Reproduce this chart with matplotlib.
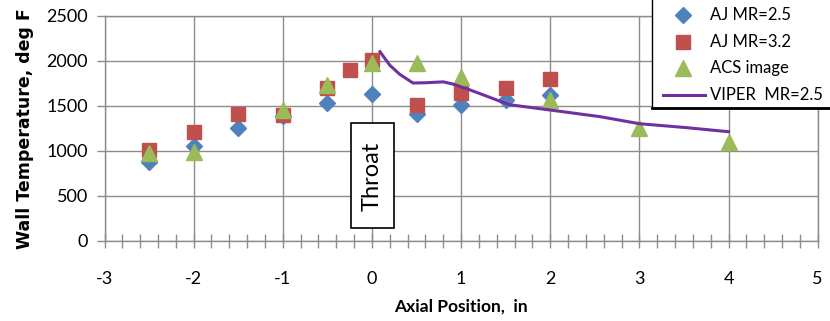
import matplotlib
matplotlib.use("Agg")
import matplotlib.pyplot as plt
from matplotlib.patches import Rectangle
from matplotlib.lines import Line2D
from matplotlib.ticker import MultipleLocator

plt.rcParams['axes.unicode_minus'] = False

# ---- data ----
aj25_x = [-2.5, -2, -1.5, -1, -0.5, 0, 0.5, 1, 1.5, 2]
aj25_y = [880, 1050, 1250, 1380, 1530, 1635, 1405, 1510, 1560, 1615]

aj32_x = [-2.5, -2, -1.5, -1, -0.5, -0.25, 0, 0.5, 1, 1.5, 2]
aj32_y = [1010, 1205, 1405, 1400, 1700, 1900, 2005, 1505, 1645, 1700, 1800]

acs_x = [-2.5, -2, -1, -0.5, 0, 0.5, 1, 2, 3, 4]
acs_y = [970, 990, 1455, 1725, 1970, 1970, 1820, 1560, 1250, 1100]

viper_x = [0.09, 0.2, 0.31, 0.46, 0.6, 0.8, 0.91, 1.1, 1.25, 1.44, 1.55, 2.0, 2.56, 3.0, 3.53, 4.0]
viper_y = [2100, 1950, 1850, 1752, 1755, 1765, 1740, 1675, 1620, 1548, 1510, 1452, 1378, 1300, 1256, 1211]

labels = ["AJ MR=2.5", "AJ MR=3.2", "ACS image", "VIPER  MR=2.5"]

blue = "#4F81BD"
red = "#C0504D"
green = "#9BBB59"
purple = "#7030A0"
grid = "#8C8C8C"

W, H = 830, 321
fig = plt.figure(figsize=(W / 100, H / 100), dpi=100)
ax = fig.add_axes([104.5 / W, 1 - 240.7 / H, (817.7 - 104.5) / W, (240.7 - 15.7) / H])

ax.plot(aj25_x, aj25_y, linestyle='none', marker='D', ms=8, color=blue, mec=blue, zorder=3)
ax.plot(aj32_x, aj32_y, linestyle='none', marker='s', ms=10, color=red, mec=red, zorder=4)
ax.plot(acs_x, acs_y, linestyle='none', marker='^', ms=11, color=green, mec=green, zorder=5)
ax.plot(viper_x, viper_y, color=purple, lw=2.2, zorder=6)

ax.set_xlim(-3, 5)
ax.set_ylim(0, 2500)
ax.xaxis.set_major_locator(MultipleLocator(1))
ax.xaxis.set_minor_locator(MultipleLocator(0.2))
ax.yaxis.set_major_locator(MultipleLocator(500))
ax.grid(True, which='major', color=grid, lw=1.0)
ax.set_axisbelow(True)
for s in ax.spines.values():
    s.set_color(grid)
    s.set_linewidth(1.0)

tickfont = 'Lato'
ax.tick_params(axis='x', which='both', direction='inout', length=10, color=grid, width=1.0,
               pad=17, labelsize=13)
ax.tick_params(axis='y', which='major', direction='out', length=6, color=grid, width=1.0,
               pad=6, labelsize=13)
for lab in ax.get_xticklabels() + ax.get_yticklabels():
    lab.set_fontfamily(tickfont)

ax.set_xlabel("Axial Position,  in", fontsize=12.5, fontweight='bold', family=tickfont, labelpad=8)
ax.set_ylabel("Wall Temperature, deg F", fontsize=12.5, fontweight='bold', family='DejaVu Sans', labelpad=9)

# Throat text box
ax.add_patch(Rectangle((-0.24, 138), 0.487, 1166, fc='white', ec='black', lw=1.2, zorder=7))
ax.text(0, 719, "Throat", rotation=90, ha='center', va='center', fontsize=17, family=tickfont, zorder=8)

# legend (manual box, top clipped by figure edge)
lx0, ly_bot = 651.7, 107.7
fig.patches.append(Rectangle((lx0 / W, 1 - ly_bot / H), (W + 5 - lx0) / W, (ly_bot + 10) / H,
                             transform=fig.transFigure, fc='white', ec='black', lw=1.0, zorder=10))
fig.lines.append(Line2D([lx0 / W, 1.0], [1 - (ly_bot + 0.5) / H] * 2, transform=fig.transFigure,
                        color='black', lw=2.0, zorder=11))
rows_y = [15, 41.7, 68.3, 95]
mk = [('D', blue, 8), ('s', red, 10), ('^', green, 11)]
for i, (m, c, s) in enumerate(mk):
    fig.lines.append(Line2D([683 / W], [1 - rows_y[i] / H], transform=fig.transFigure,
                            marker=m, ms=s, color=c, linestyle='none', zorder=12))
fig.lines.append(Line2D([663 / W, 705 / W], [1 - rows_y[3] / H] * 2, transform=fig.transFigure,
                        color=purple, lw=2.2, zorder=12))
for i, lab in enumerate(labels):
    fig.text(710 / W, 1 - rows_y[i] / H, lab, ha='left', va='center', fontsize=12,
             family=tickfont, zorder=13)

fig.savefig("out.png", dpi=100)
